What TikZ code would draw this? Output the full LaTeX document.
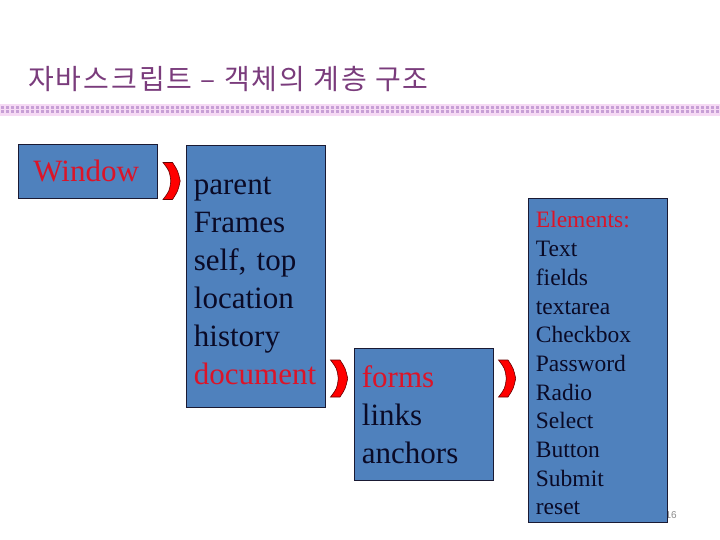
\documentclass[tikz,border=0pt]{standalone}
\usepackage{fontspec}
\setmainfont{Liberation Serif}
\newfontfamily\kofont[LetterSpace=7]{Noto Sans CJK KR}
\newfontfamily\numfont{Liberation Sans}
\usepackage{tikz}
\usetikzlibrary{positioning}
\definecolor{boxblue}{HTML}{4F81BD}
\definecolor{boxline}{HTML}{1A1A33}
\definecolor{inkdark}{HTML}{0A0A26}
\definecolor{inkred}{HTML}{DC1428}
\definecolor{titlepurple}{HTML}{7A3C7C}
\definecolor{bandpink}{HTML}{F6DAF4}
\definecolor{dotpurple}{HTML}{C79FD6}
\newcommand{\hl}[1]{\textcolor{inkred}{#1}}

\begin{document}
\begin{tikzpicture}[x=1pt, y=-1pt,
    listbox/.style={draw=boxline, line width=0.8pt, fill=boxblue, text=inkdark,
        anchor=north west, align=left, inner xsep=7pt, text width=124pt, minimum width=139pt},
    bigtext/.style={font=\fontsize{31}{38}\selectfont},
    smalltext/.style={font=\fontsize{23.5}{28.7}\selectfont},
    chev/.pic={
        \filldraw[fill=red, draw=red!40!black, line width=0.6pt]
            (-8.5,-18.5) -- (1,-18.5) .. controls (6.5,-10) .. (8.7,0)
            .. controls (6.5,10) .. (1,18.5) -- (-8.5,18.5)
            .. controls (-2,10) .. (-0.7,0) .. controls (-2,-10) .. cycle;
    }]
    \useasboundingbox (0,0) rectangle (720,540);

    % 제목
    \node[anchor=base west, inner sep=0pt, text=titlepurple,
        font=\kofont\fontsize{28}{30}\selectfont] (title) at (28,90)
        {자바스크립트 – 객체의 계층 구조};

    % 점선 띠
    \fill[bandpink] (0,104) rectangle (720,116);
    \foreach \i in {0,...,143} {
        \fill[dotpurple] (\i*5+1,106) rectangle ++(3.2,3);
        \fill[dotpurple] (\i*5+1,110.5) rectangle ++(3.2,3);
    }

    % 쪽 번호
    \node[anchor=base east, inner sep=0pt, text=black!45,
        font=\numfont\fontsize{10}{12}\selectfont] (pagenum) at (677,518) {16};

    % 상자
    \node[listbox, bigtext, inner xsep=15pt, text width=109pt, minimum height=54pt]
        (window) at (18,144) {\hl{Window}};
    \node[listbox, bigtext, minimum height=262pt] (winlist) at (186,145)
        {parent\\Frames\\self, top\\location\\history\\\hl{document}\par\kern-9pt};
    \node[listbox, bigtext, minimum height=132pt] (formlist) at (354,348)
        {\hl{forms}\\links\\anchors};
    \node[listbox, smalltext, minimum height=324pt] (elemlist) at (528,198)
        {\hl{Elements:}\\Text\\fields\\textarea\\Checkbox\\Password\\Radio\\Select\\Button\\Submit\\reset\par\kern-6pt};

    % 꺾쇠
    \pic at (171.5,181) {chev};
    \pic at (339,378.5) {chev};
    \pic at (507,378.5) {chev};
\end{tikzpicture}
\end{document}
